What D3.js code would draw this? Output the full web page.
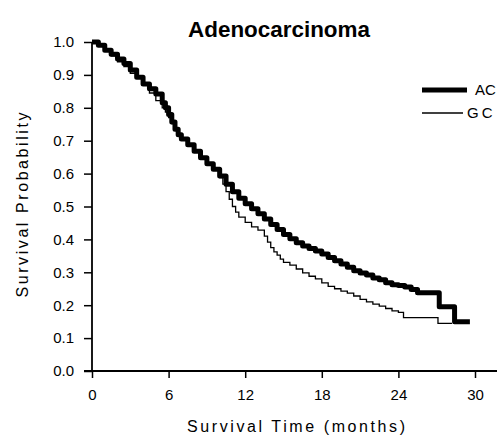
<!DOCTYPE html>
<html>
<head>
<meta charset="utf-8">
<script src="https://cdn.jsdelivr.net/npm/d3@7"></script>
<style>
  body { margin: 0; background: #fff; }
  svg { display: block; font-family: "Liberation Sans", Arial, sans-serif; }
</style>
</head>
<body>
<div id="chart"></div>
<script>
// Kaplan-Meier curves (months, survival probability)
var acTime = [0, 0.5, 1, 1.5, 2, 2.5, 3, 3.5, 4, 4.5, 5, 5.5, 5.75, 6, 6.25, 6.5, 6.75, 7, 7.5, 8, 8.5, 9, 9.5, 10, 10.5, 11, 11.5, 12, 12.5, 13, 13.5, 14, 14.5, 15, 15.5, 16, 16.5, 17, 17.5, 18, 18.5, 19, 19.5, 20, 20.5, 21, 21.5, 22, 22.5, 23, 23.5, 24, 24.5, 25, 25.5, 27.2, 28.4, 29.6];
var acSurv = [1.0, 0.99, 0.975, 0.963, 0.948, 0.935, 0.915, 0.893, 0.872, 0.858, 0.842, 0.815, 0.8, 0.78, 0.757, 0.735, 0.718, 0.705, 0.688, 0.668, 0.648, 0.63, 0.613, 0.593, 0.568, 0.545, 0.525, 0.508, 0.493, 0.478, 0.462, 0.445, 0.43, 0.415, 0.402, 0.39, 0.38, 0.372, 0.365, 0.356, 0.345, 0.335, 0.325, 0.315, 0.305, 0.298, 0.292, 0.283, 0.277, 0.268, 0.262, 0.26, 0.255, 0.248, 0.238, 0.195, 0.15, 0.15];

var gcTime = [0, 0.5, 1, 1.5, 2, 2.5, 3, 3.5, 4, 4.5, 5, 5.5, 5.75, 6, 6.25, 6.5, 6.75, 7, 7.5, 8, 8.5, 9, 9.5, 10, 10.25, 10.5, 10.75, 11, 11.25, 11.5, 12, 12.5, 13, 13.5, 13.75, 14, 14.25, 14.5, 14.75, 15, 15.5, 16, 16.5, 17, 17.5, 18, 18.5, 19, 19.5, 20, 20.5, 21, 21.5, 22, 22.5, 23, 23.5, 24, 24.4, 27.1, 28.2];
var gcSurv = [1.0, 0.988, 0.972, 0.958, 0.94, 0.925, 0.905, 0.89, 0.868, 0.845, 0.822, 0.8, 0.787, 0.77, 0.752, 0.735, 0.718, 0.705, 0.688, 0.668, 0.648, 0.628, 0.61, 0.588, 0.568, 0.545, 0.522, 0.5, 0.483, 0.468, 0.452, 0.438, 0.428, 0.41, 0.392, 0.375, 0.362, 0.352, 0.34, 0.33, 0.322, 0.31, 0.298, 0.288, 0.28, 0.268, 0.257, 0.25, 0.243, 0.237, 0.228, 0.218, 0.21, 0.203, 0.197, 0.19, 0.183, 0.178, 0.162, 0.145, 0.145];

var xTicks = [0, 6, 12, 18, 24, 30];
var yTicks = [0, 0.1, 0.2, 0.3, 0.4, 0.5, 0.6, 0.7, 0.8, 0.9, 1.0];
var seriesNames = ["AC", "GC"];

var width = 499, height = 436;

var svg = d3.select("#chart").append("svg")
    .attr("width", width)
    .attr("height", height);

svg.append("rect").attr("width", width).attr("height", height).attr("fill", "#fff");

var x = d3.scaleLinear().domain([0, 30]).range([92, 475]);
var y = d3.scaleLinear().domain([0, 1]).range([371, 42]);

// Y axis
var yAxis = svg.append("g")
    .attr("transform", "translate(" + x(0) + ",0)")
    .call(d3.axisLeft(y).tickValues(yTicks).tickFormat(d3.format(".1f")).tickSize(8).tickPadding(10));
yAxis.select(".domain").remove();
yAxis.selectAll(".tick line").attr("stroke", "#000").attr("stroke-width", 1.5);
yAxis.selectAll(".tick text").attr("font-size", 15).attr("fill", "#000")
    .attr("font-family", "Liberation Sans, Arial, sans-serif");

// X axis
var xAxis = svg.append("g")
    .attr("transform", "translate(0," + y(0) + ")")
    .call(d3.axisBottom(x).tickValues(xTicks).tickSize(7).tickPadding(11));
xAxis.select(".domain").remove();
xAxis.selectAll(".tick line").attr("stroke", "#000").attr("stroke-width", 1.5);
xAxis.selectAll(".tick text").attr("font-size", 15).attr("fill", "#000")
    .attr("font-family", "Liberation Sans, Arial, sans-serif");

// axis lines
svg.append("line")
    .attr("x1", x(0)).attr("x2", x(0))
    .attr("y1", y(1)).attr("y2", y(0))
    .attr("stroke", "#000").attr("stroke-width", 1.8);
svg.append("line")
    .attr("x1", x(0) - 8).attr("x2", 497)
    .attr("y1", y(0)).attr("y2", y(0))
    .attr("stroke", "#000").attr("stroke-width", 1.8);

// curves
var line = d3.line()
    .x(function(d) { return x(d[0]); })
    .y(function(d) { return y(d[1]); })
    .curve(d3.curveStepAfter);

var gcData = gcTime.map(function(t, i) { return [t, gcSurv[i]]; });
var acData = acTime.map(function(t, i) { return [t, acSurv[i]]; });

svg.append("path")
    .datum(gcData)
    .attr("d", line)
    .attr("fill", "none")
    .attr("stroke", "#000")
    .attr("stroke-width", 1.3);

svg.append("path")
    .datum(acData)
    .attr("d", line)
    .attr("fill", "none")
    .attr("stroke", "#000")
    .attr("stroke-width", 5)
    .attr("stroke-linejoin", "round");

// title
svg.append("text")
    .attr("x", 279).attr("y", 37)
    .attr("text-anchor", "middle")
    .attr("font-size", 22)
    .attr("font-weight", "bold")
    .attr("textLength", 182)
    .attr("lengthAdjust", "spacingAndGlyphs")
    .text("Adenocarcinoma");

// axis titles
svg.append("text")
    .attr("x", 296).attr("y", 432)
    .attr("text-anchor", "middle")
    .attr("font-size", 16)
    .attr("textLength", 218)
    .text("Survival Time (months)");

svg.append("text")
    .attr("transform", "translate(28,205) rotate(-90)")
    .attr("text-anchor", "middle")
    .attr("font-size", 16)
    .attr("textLength", 185)
    .text("Survival Probability");

// legend
var legend = svg.append("g");
legend.append("line")
    .attr("x1", 422).attr("x2", 467).attr("y1", 90).attr("y2", 90)
    .attr("stroke", "#000").attr("stroke-width", 5);
legend.append("line")
    .attr("x1", 422).attr("x2", 463).attr("y1", 113).attr("y2", 113)
    .attr("stroke", "#000").attr("stroke-width", 1.3);
legend.append("text").attr("x", 475).attr("y", 95).attr("font-size", 15).text(seriesNames[0]);
legend.append("text").attr("x", 467).attr("y", 118).attr("font-size", 15)
    .attr("letter-spacing", 3).text(seriesNames[1]);
</script>
</body>
</html>
